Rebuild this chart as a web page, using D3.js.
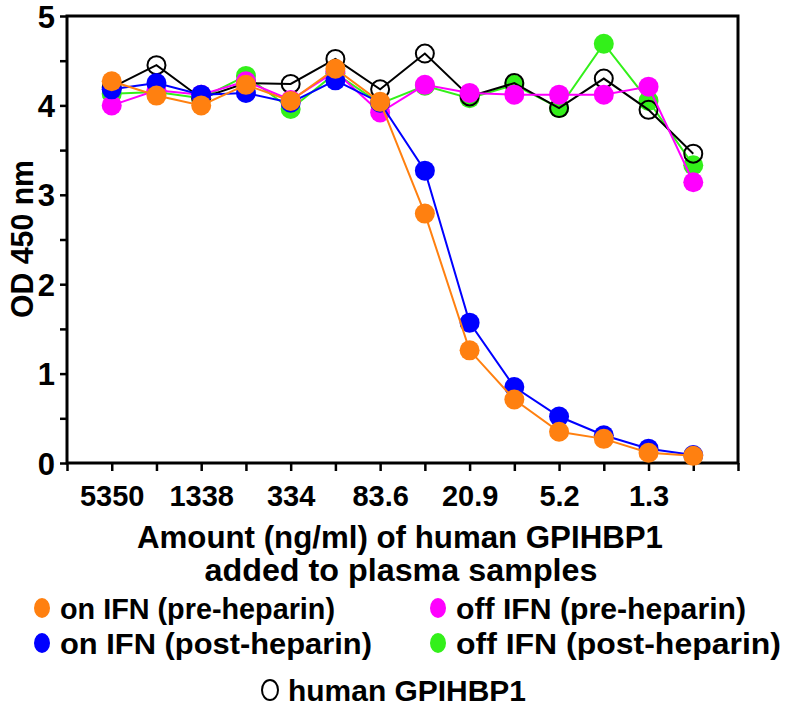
<!DOCTYPE html>
<html><head><meta charset="utf-8">
<script src="https://d3js.org/d3.v7.min.js"></script>
<style>body{margin:0;background:#fff}svg{display:block}text{font-family:"Liberation Sans",Arial,sans-serif;font-weight:bold;fill:#000}</style>
</head><body><svg id="c" width="798" height="712"></svg>
<script>
// concentrations (ng/ml) of human GPIHBP1, positions 1..14
const concentrations = ["5350","2675","1338","669","334","167","83.6","41.8","20.9","10.4","5.2","2.6","1.3","0.65"];
const xTickLabels = ["5350","1338","334","83.6","20.9","5.2","1.3"];
const yTicks = [0,1,2,3,4,5];
const onIFNpre  = [4.27,4.11,4.00,4.23,4.05,4.41,4.04,2.79,1.26,0.71,0.35,0.27,0.115,0.08];
const onIFNpost = [4.18,4.25,4.12,4.14,4.03,4.28,4.03,3.27,1.57,0.85,0.52,0.31,0.16,0.09];
const offIFNpre = [4.00,4.17,4.12,4.27,4.06,4.38,3.92,4.23,4.14,4.12,4.12,4.12,4.21,3.14];
const offIFNpost= [4.13,4.15,4.08,4.33,3.96,4.36,4.02,4.22,4.08,4.23,3.97,4.69,4.05,3.33];
const humanGPIHBP1 = [4.20,4.45,4.08,4.25,4.24,4.52,4.18,4.58,4.10,4.25,3.97,4.30,3.95,3.46];
const seriesNames = ["off IFN (post-heparin)","human GPIHBP1","off IFN (pre-heparin)","on IFN (post-heparin)","on IFN (pre-heparin)"];
const seriesColors = ["#33f01a","#000000","#ff00ff","#0000ff","#ff8010"];
const seriesData = [offIFNpost, humanGPIHBP1, offIFNpre, onIFNpost, onIFNpre];

const svg = d3.select("#c");
const x = d3.scaleLinear().domain([0,15]).range([67,738]);
const y = d3.scaleLinear().domain([0,5]).range([463,16]);

// frame
svg.append("rect").attr("x",x(0)).attr("y",y(5)).attr("width",x(15)-x(0)).attr("height",y(0)-y(5))
  .attr("fill","none").attr("stroke","#000").attr("stroke-width",3);

// y axis
const yAxis = d3.axisLeft(y).tickValues(d3.range(0,5.01,0.5)).tickSize(7)
  .tickFormat(d => yTicks.includes(d) ? d : "");
const gy = svg.append("g").attr("transform",`translate(${x(0)},0)`).call(yAxis);
gy.select(".domain").remove();
gy.selectAll("line").attr("stroke","#000").attr("stroke-width",2.5);
gy.selectAll("text").style("font-size","31px").attr("x",-12).attr("dy","0.36em");

// x axis
const xAxis = d3.axisBottom(x).tickValues(d3.range(0,16)).tickSize(8)
  .tickFormat(d => (d>=1 && d<=14 && xTickLabels.includes(concentrations[d-1])) ? concentrations[d-1] : "");
const gx = svg.append("g").attr("transform",`translate(0,${y(0)})`).call(xAxis);
gx.select(".domain").remove();
gx.selectAll("line").attr("stroke","#000").attr("stroke-width",2.5);
gx.selectAll("text").style("font-size","29px").attr("y",22).attr("dy","0.71em");

// axis titles
svg.append("text").attr("transform","translate(33,239) rotate(-90)").attr("text-anchor","middle")
  .style("font-size","31px").attr("textLength",158).attr("lengthAdjust","spacingAndGlyphs").text("OD 450 nm");
svg.append("text").attr("x",400).attr("y",548).attr("text-anchor","middle").style("font-size","32px")
  .attr("textLength",526).attr("lengthAdjust","spacingAndGlyphs")
  .text("Amount (ng/ml) of human GPIHBP1");
svg.append("text").attr("x",401).attr("y",581).attr("text-anchor","middle").style("font-size","32px")
  .attr("textLength",393).attr("lengthAdjust","spacingAndGlyphs")
  .text("added to plasma samples");

// series
const line = d3.line().x((d,i)=>x(i+1)).y(d=>y(d));
seriesData.forEach((data,k)=>{
  const g = svg.append("g");
  g.append("path").datum(data).attr("d",line).attr("fill","none")
    .attr("stroke",seriesColors[k]).attr("stroke-width",2);
  g.selectAll("circle").data(data).join("circle")
    .attr("cx",(d,i)=>x(i+1)).attr("cy",d=>y(d)).attr("r",k===1?9:10)
    .attr("fill",k===1?"none":seriesColors[k])
    .attr("stroke",k===1?"#000":"none").attr("stroke-width",2);
});

// legend
const legendItems = [
  {name:"on IFN (pre-heparin)", color:"#ff8010", x:42, y:608, w:275},
  {name:"off IFN (pre-heparin)", color:"#ff00ff", x:438, y:608, w:290},
  {name:"on IFN (post-heparin)", color:"#0000ff", x:42, y:643, w:312},
  {name:"off IFN (post-heparin)", color:"#33f01a", x:438, y:643, w:325},
  {name:"human GPIHBP1", color:null, x:270, y:690, w:238}
];
legendItems.forEach(it=>{
  if(it.color) svg.append("ellipse").attr("cx",it.x).attr("cy",it.y).attr("rx",8).attr("ry",10).attr("fill",it.color);
  else svg.append("ellipse").attr("cx",it.x).attr("cy",it.y).attr("rx",8).attr("ry",10).attr("fill","none").attr("stroke","#000").attr("stroke-width",2);
  svg.append("text").attr("x",it.x+18).attr("y",it.y).attr("dy","0.36em").style("font-size","30px")
    .attr("textLength",it.w).attr("lengthAdjust","spacingAndGlyphs").text(it.name);
});
</script></body></html>
